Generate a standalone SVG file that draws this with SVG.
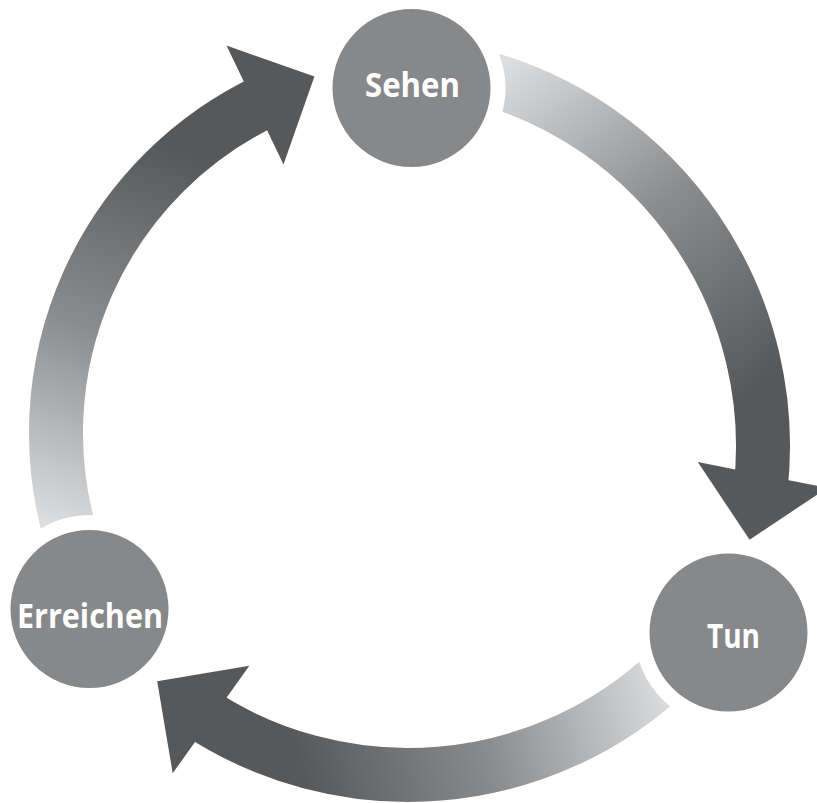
<svg xmlns="http://www.w3.org/2000/svg" width="817" height="803" viewBox="0 0 817 803">
  <style>
    .shaft { fill: none; stroke-width: 54; stroke-linecap: butt; }
    .node circle { fill: #87888a; stroke: #ffffff; stroke-width: 15; }
    .node text { fill: #ffffff; font-family: "Open Sans", "Noto Sans", "Liberation Sans", sans-serif; font-weight: 700; font-size: 34px; }
  </style>
  <defs>
    <linearGradient id="gRight" gradientUnits="userSpaceOnUse" x1="500" y1="70" x2="750" y2="390">
      <stop offset="0" stop-color="#dcdddf"/>
      <stop offset="0.5" stop-color="#8b8c8e"/>
      <stop offset="1" stop-color="#57585a"/>
    </linearGradient>
    <linearGradient id="gBottom" gradientUnits="userSpaceOnUse" x1="665" y1="680" x2="300" y2="770">
      <stop offset="0" stop-color="#dcdddf"/>
      <stop offset="0.5" stop-color="#8b8c8e"/>
      <stop offset="1" stop-color="#57585a"/>
    </linearGradient>
    <linearGradient id="gLeft" gradientUnits="userSpaceOnUse" x1="70" y1="530" x2="200" y2="160">
      <stop offset="0" stop-color="#dcdddf"/>
      <stop offset="0.5" stop-color="#8b8c8e"/>
      <stop offset="1" stop-color="#57585a"/>
    </linearGradient>
  </defs>
  <rect width="817" height="803" fill="#ffffff"/>
  <g id="connectors">
    <g id="arrow-sehen-tun">
      <path class="shaft" stroke="url(#gRight)" d="M479.13,76.05 A383,383 0 0 1 760.54,489.36"/>
      <polygon fill="#57585a" points="697.8,462.1 827.2,487.9 749.6,539.7"/>
    </g>
    <g id="arrow-tun-erreichen">
      <path class="shaft" stroke="url(#gBottom)" d="M667.16,672.91 A380,380 0 0 1 198.26,711.88"/>
      <polygon fill="#57585a" points="249.3,665.7 172.7,773.3 157.2,681.2"/>
    </g>
    <g id="arrow-erreichen-sehen">
      <path class="shaft" stroke="url(#gLeft)" d="M72.08,540.59 A368,368 0 0 1 268.48,99.48"/>
      <polygon fill="#57585a" points="226.5,45.6 283.5,164.4 314.4,76.5"/>
    </g>
  </g>
  <g id="node-sehen" class="node">
    <circle cx="411.5" cy="88" r="86.5"/>
    <text x="365" y="97" textLength="95" lengthAdjust="spacingAndGlyphs">Sehen</text>
  </g>
  <g id="node-tun" class="node">
    <circle cx="728.5" cy="632.5" r="86.5"/>
    <text x="707" y="648" textLength="53" lengthAdjust="spacingAndGlyphs">Tun</text>
  </g>
  <g id="node-erreichen" class="node">
    <circle cx="89.5" cy="609" r="86.5"/>
    <text x="17" y="628" textLength="146" lengthAdjust="spacingAndGlyphs">Erreichen</text>
  </g>
</svg>
